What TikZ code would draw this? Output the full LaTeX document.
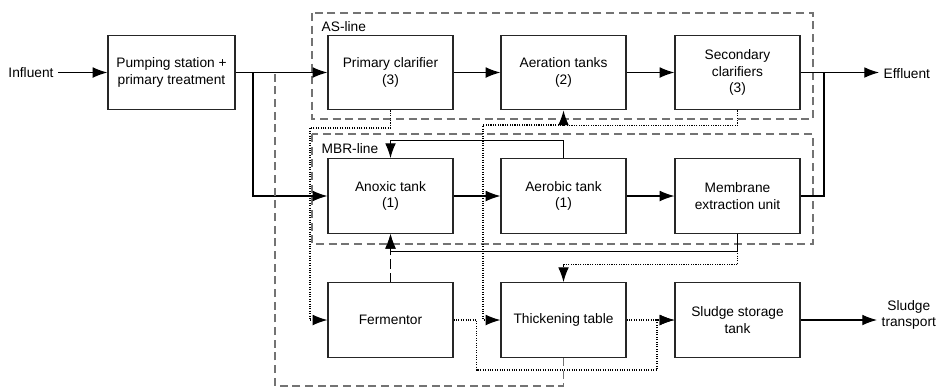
\documentclass[tikz,border=0pt]{standalone}
\usepackage{fontspec}
\setmainfont{Liberation Sans}
\usetikzlibrary{arrows.meta}

\begin{document}
\begin{tikzpicture}[x=0.75pt, y=-0.75pt,
  every node/.style={font=\fontsize{10.3}{12.5}\selectfont},
  unit/.style={draw=black!85, line width=0.9pt, minimum width=93.75pt,
    minimum height=56pt, align=center, inner sep=2pt},
  flow/.style={line width=0.8pt, -{Latex[length=11pt,width=8pt]}},
  sludge/.style={line width=0.8pt, densely dotted, -{Latex[length=11pt,width=8pt]}},
  fermline/.style={line width=0.8pt, dash pattern=on 7pt off 3pt, -{Latex[length=11pt,width=8pt]}},
  frame/.style={draw=black!55, line width=0.9pt, dash pattern=on 6pt off 3.5pt},
  reject/.style={draw=black!55, line width=0.9pt, dash pattern=on 6pt off 3.5pt}]
  \useasboundingbox (0,0) rectangle (939,387);
  % columns and rows (px)
  \def\ca{390.5} \def\cb{563.5} \def\cc{737.5}
  \def\ra{72.5}  \def\rb{196}   \def\rc{320}

  % ---- treatment lines ----
  \draw[frame] (312,13) rectangle (813,119);
  \node[anchor=west] (aslabel) at (317,27) {AS-line};
  \draw[frame] (312,134) rectangle (813,244);
  \node[anchor=west] (mbrlabel) at (317,149) {MBR-line};

  % ---- units ----
  \node (influent) at (31,\ra) {Influent};
  \node[unit, minimum width=95.25pt] (pump) at (171.5,\ra) {Pumping station +\\primary treatment};
  \node[unit] (primclar) at (\ca,\ra) {Primary clarifier\\(3)};
  \node[unit] (aertank)  at (\cb,\ra) {Aeration tanks\\(2)};
  \node[unit] (secclar)  at (\cc,\ra) {Secondary\\clarifiers\\(3)};
  \node[unit] (anoxic)   at (\ca,\rb) {Anoxic tank\\(1)};
  \node[unit] (aerobic)  at (\cb,\rb) {Aerobic tank\\(1)};
  \node[unit] (membrane) at (\cc,\rb) {Membrane\\extraction unit};
  \node[unit] (fermentor)  at (\ca,\rc) {Fermentor};
  \node[unit] (thickening) at (\cb,\rc) {Thickening table};
  \node[unit] (storage)    at (\cc,\rc) {Sludge storage\\tank};
  \node[anchor=west] (effluent) at (879,74) {Effluent};
  \node[anchor=west, align=center] (transport) at (877,315) {Sludge\\transport};

  \coordinate (split) at (253,\ra);
  \coordinate (rejin) at (275,\ra);
  \coordinate (join) at (824,\ra);
  \coordinate (ps) at (310,128);
  \coordinate (was) at (483,125);
  \coordinate (fs) at (657,370);

  % ---- water flow ----
  \draw[flow] (influent) -- (pump);
  \draw[flow] (pump) -- (primclar);
  \draw[flow] (split) |- (anoxic.west);
  \draw[flow] (primclar) -- (aertank);
  \draw[flow] (aertank) -- (secclar);
  \draw[flow] (secclar.east) -- (secclar.east -| effluent.west);
  \draw[flow] (anoxic) -- (aerobic);
  \draw[flow] (aerobic) -- (membrane);
  \draw[line width=0.8pt] (membrane.east) -| (join);
  \draw[flow] (aerobic.north) -- ++(0,-18) -| (anoxic.north);
  \draw[flow] (membrane.south) -- ++(0,18) -| (anoxic.south);

  % ---- sludge ----
  \draw[sludge] (secclar.south) -- ++(0,15) -| (aertank.south);
  \draw[sludge] (aertank.south |- was) -- (was) |- (thickening.west);
  \draw[sludge] (primclar.south) |- (ps) |- (fermentor.west);
  \draw[sludge] (membrane.south) -- ++(0,31) -| (thickening.north);
  \draw[fermline] (fermentor.north) -- (anoxic.south);
  \draw[sludge] (fermentor.east) -- ++(23,0) |- (fs) |- (storage.west);
  \draw[sludge] (thickening) -- (storage);
  \draw[flow] (storage.east) -- (storage.east -| transport.west);

  % reject water back to the inflow
  \draw[reject] (thickening.south) -- ++(0,28) -| (rejin);
\end{tikzpicture}
\end{document}
